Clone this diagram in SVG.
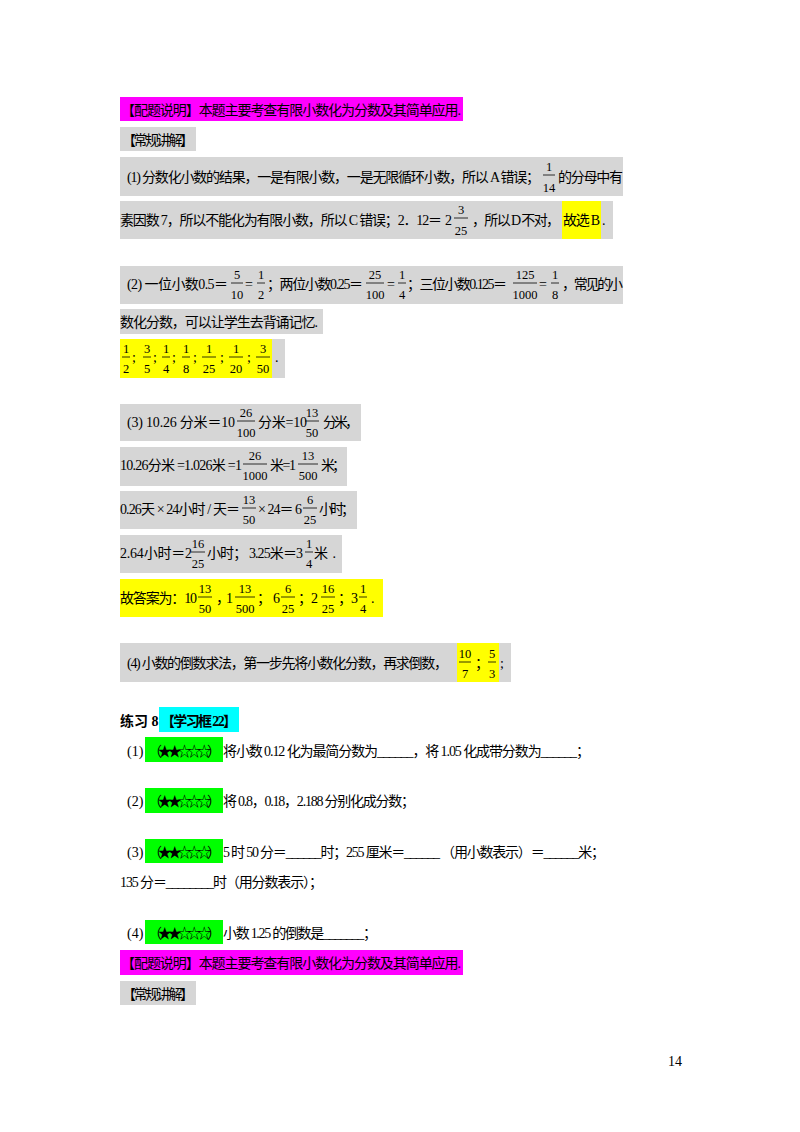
<svg xmlns="http://www.w3.org/2000/svg" width="800" height="1132" viewBox="0 0 800 1132">
<style>
text{font-family:"Liberation Serif","Noto Sans CJK SC",serif;font-size:14px;fill:#000}
.f{font-size:12.5px;text-anchor:middle}
.bar{stroke:#000;stroke-width:0.8}
.mg{fill:#ff00ff}.gy{fill:#d6d6d6}.yl{fill:#ffff00}.cy{fill:#00ffff}.gn{fill:#00ff00}
.b{font-weight:bold}
</style>
<rect width="800" height="1132" fill="#fff"/>
<g id="top-note">
<rect class="mg" x="120" y="97" width="343" height="24"/>
<text x="121" y="115" textLength="340">【配题说明】本题主要考查有限小数化为分数及其简单应用.</text>
<rect class="gy" x="120" y="127" width="76" height="24"/>
<text x="122" y="145" textLength="72">【常规讲解】</text>
</g>
<g id="part1">
<rect class="gy" x="120" y="157" width="503" height="39"/>
<text x="127" y="182" textLength="413">(1) 分数化小数的结果，一是有限小数，一是无限循环小数，所以 A 错误；</text>
<text class="f" x="549" y="171">1</text><line class="bar" x1="543" y1="175" x2="555" y2="175"/><text class="f" x="549" y="192">14</text>
<text x="558" y="182" textLength="65">的分母中有</text>
<rect class="gy" x="120" y="201" width="493" height="38"/>
<rect class="yl" x="562" y="201" width="39" height="38"/>
<text x="120" y="225" textLength="322">素因数 7，所以不能化为有限小数，所以 C 错误；2．12＝</text>
<text x="445" y="225">2</text>
<text class="f" x="461" y="214">3</text><line class="bar" x1="454" y1="218" x2="468" y2="218"/><text class="f" x="461" y="235">25</text>
<text x="472" y="225" textLength="88">，所以 D 不对，</text>
<text x="563" y="225" textLength="37">故选 B</text>
<text x="602" y="225">.</text>
</g>
<g id="part2">
<rect class="gy" x="120" y="266" width="503" height="38"/>
<text x="127" y="289" textLength="101">(2) 一位小数0.5＝</text>
<text class="f" x="237" y="279">5</text><line class="bar" x1="231" y1="283" x2="243" y2="283"/><text class="f" x="237" y="299">10</text>
<text x="245" y="289">=</text>
<text class="f" x="261" y="279">1</text><line class="bar" x1="257" y1="283" x2="265" y2="283"/><text class="f" x="261" y="299">2</text>
<text x="267" y="289" textLength="96">；两位小数0.25＝</text>
<text class="f" x="375" y="279">25</text><line class="bar" x1="366" y1="283" x2="384" y2="283"/><text class="f" x="375" y="299">100</text>
<text x="387" y="289">=</text>
<text class="f" x="402" y="279">1</text><line class="bar" x1="398" y1="283" x2="406" y2="283"/><text class="f" x="402" y="299">4</text>
<text x="407" y="289" textLength="100">；三位小数0.125＝</text>
<text class="f" x="525" y="279">125</text><line class="bar" x1="513" y1="283" x2="537" y2="283"/><text class="f" x="525" y="299">1000</text>
<text x="539" y="289">=</text>
<text class="f" x="555" y="279">1</text><line class="bar" x1="551" y1="283" x2="559" y2="283"/><text class="f" x="555" y="299">8</text>
<text x="562" y="289" textLength="61">，常见的小</text>
<rect class="gy" x="120" y="309" width="203" height="25"/>
<text x="120" y="327" textLength="198">数化分数，可以让学生去背诵记忆.</text>
<rect class="gy" x="120" y="339" width="165" height="39"/>
<rect class="yl" x="120" y="339" width="152" height="39"/>
<text class="f" x="126" y="353">1</text><line class="bar" x1="122" y1="357" x2="130" y2="357"/><text class="f" x="126" y="373">2</text>
<text x="132" y="362">;</text>
<text class="f" x="147" y="353">3</text><line class="bar" x1="143" y1="357" x2="151" y2="357"/><text class="f" x="147" y="373">5</text>
<text x="153" y="362">;</text>
<text class="f" x="166" y="353">1</text><line class="bar" x1="162" y1="357" x2="170" y2="357"/><text class="f" x="166" y="373">4</text>
<text x="172" y="362">;</text>
<text class="f" x="186" y="353">1</text><line class="bar" x1="182" y1="357" x2="190" y2="357"/><text class="f" x="186" y="373">8</text>
<text x="193" y="362">;</text>
<text class="f" x="209" y="353">1</text><line class="bar" x1="202" y1="357" x2="216" y2="357"/><text class="f" x="209" y="373">25</text>
<text x="220" y="362">;</text>
<text class="f" x="236" y="353">1</text><line class="bar" x1="229" y1="357" x2="243" y2="357"/><text class="f" x="236" y="373">20</text>
<text x="247" y="362">;</text>
<text class="f" x="263" y="353">3</text><line class="bar" x1="256" y1="357" x2="270" y2="357"/><text class="f" x="263" y="373">50</text>
<text x="275" y="362">.</text>
</g>
<g id="part3">
<rect class="gy" x="120" y="404" width="241" height="37"/>
<text x="127" y="427" textLength="108">(3)  10.26 分米＝10</text>
<text class="f" x="246" y="417">26</text><line class="bar" x1="237" y1="421" x2="255" y2="421"/><text class="f" x="246" y="437">100</text>
<text x="258" y="427" textLength="49">分米=10</text>
<text class="f" x="312" y="417">13</text><line class="bar" x1="305" y1="421" x2="319" y2="421"/><text class="f" x="312" y="437">50</text>
<text x="323" y="427" textLength="36">分米，</text>
<rect class="gy" x="120" y="447" width="227" height="39"/>
<text x="120" y="470" textLength="122">10.26分米 =1.026米 =1</text>
<text class="f" x="255" y="460">26</text><line class="bar" x1="243" y1="464" x2="267" y2="464"/><text class="f" x="255" y="480">1000</text>
<text x="270" y="470" textLength="26">米=1</text>
<text class="f" x="308" y="460">13</text><line class="bar" x1="298" y1="464" x2="318" y2="464"/><text class="f" x="308" y="480">500</text>
<text x="321" y="470" textLength="25">米；</text>
<rect class="gy" x="120" y="491" width="237" height="38"/>
<text x="120" y="514" textLength="120">0.26天 × 24小时 / 天＝</text>
<text class="f" x="249" y="504">13</text><line class="bar" x1="242" y1="508" x2="256" y2="508"/><text class="f" x="249" y="524">50</text>
<text x="258" y="514" textLength="44">× 24＝ 6</text>
<text class="f" x="310" y="504">6</text><line class="bar" x1="303" y1="508" x2="317" y2="508"/><text class="f" x="310" y="524">25</text>
<text x="319" y="514" textLength="36">小时；</text>
<rect class="gy" x="120" y="535" width="222" height="38"/>
<text x="120" y="558" textLength="72">2.64小时＝2</text>
<text class="f" x="198" y="548">16</text><line class="bar" x1="191" y1="552" x2="205" y2="552"/><text class="f" x="198" y="568">25</text>
<text x="207" y="558" textLength="96">小时；  3.25米＝3</text>
<text class="f" x="309" y="548">1</text><line class="bar" x1="305" y1="552" x2="313" y2="552"/><text class="f" x="309" y="568">4</text>
<text x="314" y="558" textLength="22">米 .</text>
<rect class="yl" x="120" y="579" width="263" height="38"/>
<text x="120" y="603" textLength="77">故答案为：10</text>
<text class="f" x="205" y="593">13</text><line class="bar" x1="198" y1="597" x2="212" y2="597"/><text class="f" x="205" y="613">50</text>
<text x="216" y="603" textLength="17">，  1</text>
<text class="f" x="245" y="593">13</text><line class="bar" x1="235" y1="597" x2="255" y2="597"/><text class="f" x="245" y="613">500</text>
<text x="257" y="603" textLength="23">；  6</text>
<text class="f" x="288" y="593">6</text><line class="bar" x1="281" y1="597" x2="295" y2="597"/><text class="f" x="288" y="613">25</text>
<text x="298" y="603" textLength="20">；  2</text>
<text class="f" x="328" y="593">16</text><line class="bar" x1="321" y1="597" x2="335" y2="597"/><text class="f" x="328" y="613">25</text>
<text x="338" y="603" textLength="20">；  3</text>
<text class="f" x="363" y="593">1</text><line class="bar" x1="359" y1="597" x2="367" y2="597"/><text class="f" x="363" y="613">4</text>
<text x="371" y="603">.</text>
</g>
<g id="part4">
<rect class="gy" x="120" y="643" width="391" height="39"/>
<rect class="yl" x="457" y="643" width="42" height="39"/>
<text x="127" y="668" textLength="321">(4) 小数的倒数求法，第一步先将小数化分数，再求倒数，</text>
<text class="f" x="465" y="658">10</text><line class="bar" x1="459" y1="662" x2="471" y2="662"/><text class="f" x="465" y="678">7</text>
<text x="475" y="668">；</text>
<text class="f" x="492" y="658">5</text><line class="bar" x1="488" y1="662" x2="496" y2="662"/><text class="f" x="492" y="678">3</text>
<text x="500" y="668">;</text>
</g>
<g id="exercise">
<text class="b" x="120" y="726">练习 8:</text>
<rect class="cy" x="159" y="707" width="80" height="25"/>
<text class="b" x="161" y="726" textLength="76">【学习框 22】</text>
<rect class="gn" x="145" y="737" width="78" height="25"/>
<text x="127" y="756">(1)</text>
<text x="148" y="756" textLength="73">（★★☆☆☆）</text>
<text x="223" y="756" textLength="367">将小数 0.12 化为最简分数为______，将 1.05 化成带分数为______；</text>
<rect class="gn" x="145" y="788" width="78" height="25"/>
<text x="127" y="806">(2)</text>
<text x="148" y="806" textLength="73">（★★☆☆☆）</text>
<text x="223" y="806" textLength="192">将 0.8，0.18，2.188 分别化成分数；</text>
<rect class="gn" x="145" y="839" width="78" height="24"/>
<text x="127" y="857">(3)</text>
<text x="148" y="857" textLength="73">（★★☆☆☆）</text>
<text x="223" y="857" textLength="382">5 时 50 分＝______时；255 厘米＝______ （用小数表示）＝______米；</text>
<text x="120" y="887" textLength="203">135 分＝________时（用分数表示）；</text>
<rect class="gn" x="145" y="920" width="78" height="24"/>
<text x="127" y="938">(4)</text>
<text x="148" y="938" textLength="73">（★★☆☆☆）</text>
<text x="223" y="938" textLength="154">小数 1.25 的倒数是_______；</text>
</g>
<g id="bottom-note">
<rect class="mg" x="120" y="950" width="343" height="25"/>
<text x="121" y="968" textLength="340">【配题说明】本题主要考查有限小数化为分数及其简单应用.</text>
<rect class="gy" x="120" y="981" width="76" height="24"/>
<text x="122" y="999" textLength="72">【常规讲解】</text>
</g>
<text x="668" y="1066" font-size="12">14</text>
</svg>
